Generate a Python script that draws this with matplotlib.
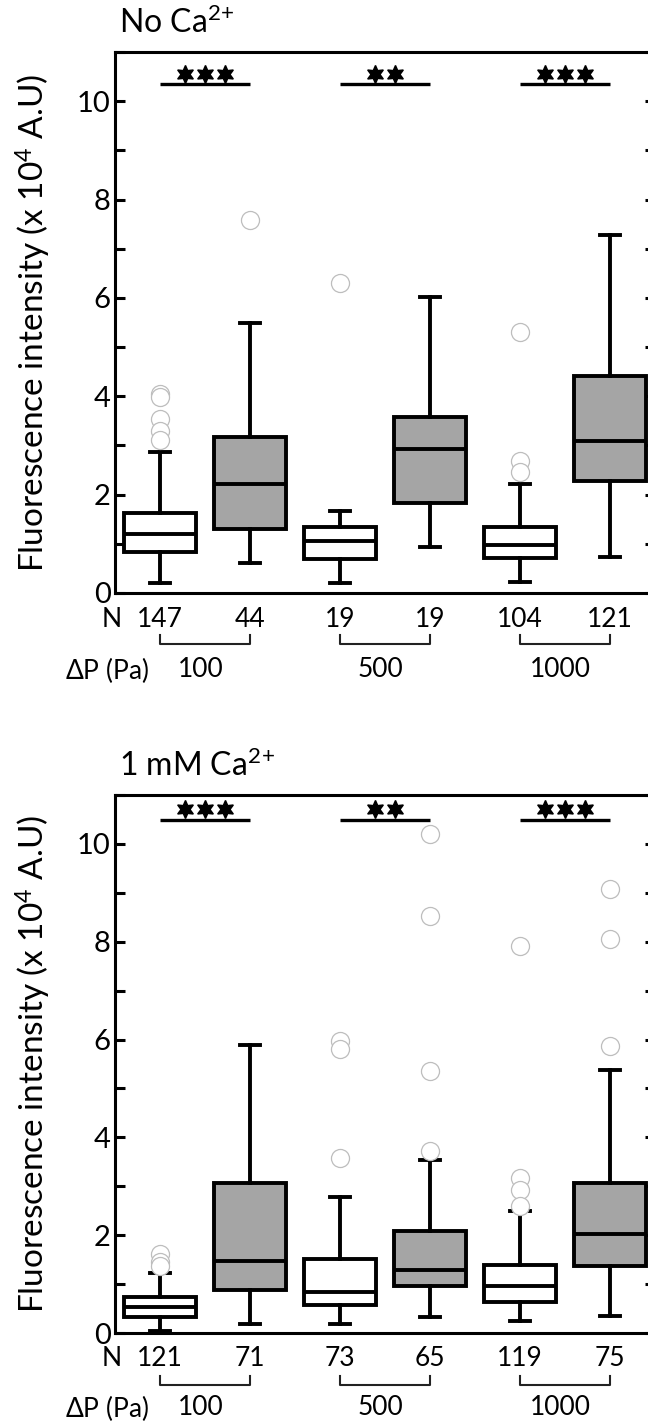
import matplotlib
matplotlib.use("Agg")
import matplotlib.pyplot as plt

plt.rcParams['font.family'] = ['Lato', 'DejaVu Sans']
plt.rcParams['mathtext.fontset'] = 'custom'
plt.rcParams['mathtext.rm'] = 'Lato'
plt.rcParams['mathtext.it'] = 'Lato:italic'

# box summaries, values in 10^4 A.U.
pressures = ['100', '500', '1000']
positions = [1, 2, 3, 4, 5, 6]

# No Ca2+
noca_n = [147, 44, 19, 19, 104, 121]
noca_whislo = [0.21, 0.61, 0.20, 0.94, 0.22, 0.73]
noca_q1 = [0.84, 1.30, 0.69, 1.83, 0.71, 2.27]
noca_med = [1.20, 2.22, 1.06, 2.92, 0.98, 3.08]
noca_q3 = [1.63, 3.18, 1.35, 3.57, 1.35, 4.41]
noca_whishi = [2.86, 5.49, 1.66, 6.02, 2.22, 7.27]
noca_fliers = [[4.05, 3.98, 3.53, 3.29, 3.12], [7.58], [6.30], [],
               [5.30, 2.69, 2.45], []]

# 1 mM Ca2+
ca_n = [121, 71, 73, 65, 119, 75]
ca_whislo = [0.04, 0.18, 0.18, 0.33, 0.25, 0.35]
ca_q1 = [0.33, 0.88, 0.57, 0.96, 0.64, 1.38]
ca_med = [0.53, 1.47, 0.84, 1.29, 0.96, 2.02]
ca_q3 = [0.73, 3.06, 1.51, 2.08, 1.39, 3.06]
ca_whishi = [1.22, 5.88, 2.78, 3.53, 2.49, 5.37]
ca_fliers = [[1.61, 1.45, 1.38], [], [5.98, 5.80, 3.57],
             [10.2, 8.52, 5.35, 3.73], [7.92, 3.16, 2.93, 2.60],
             [9.08, 8.06, 5.87]]

# significance stars per pressure group
stars = [3, 2, 3]

GRAY = '#a5a5a5'
LW = 2.8


def make_stats(whislo, q1, med, q3, whishi, fliers):
    out = []
    for i in range(len(med)):
        out.append(dict(whislo=whislo[i], q1=q1[i], med=med[i], q3=q3[i],
                        whishi=whishi[i], fliers=fliers[i]))
    return out


def draw_panel(ax, stats, counts, title, bar_y, star_y, ny, bky, dpy):
    boxes = ax.bxp(stats, positions=positions, widths=0.8, capwidths=0.23,
                   patch_artist=True, showfliers=True,
                   boxprops=dict(linewidth=LW, edgecolor='black'),
                   medianprops=dict(linewidth=LW, color='black'),
                   whiskerprops=dict(linewidth=LW, color='black'),
                   capprops=dict(linewidth=LW, color='black'),
                   flierprops=dict(marker='o', markerfacecolor='white',
                                   markeredgecolor='#bdbdbd', markersize=13,
                                   markeredgewidth=0.9))
    for i, b in enumerate(boxes['boxes']):
        b.set_facecolor('white' if i % 2 == 0 else GRAY)

    ax.set_xlim(0.5, 6.5)
    ax.set_ylim(0, 11)
    ax.set_yticks([0, 2, 4, 6, 8, 10])
    ax.set_yticks([1, 3, 5, 7, 9, 11], minor=True)
    ax.set_xticks([])
    ax.tick_params(axis='y', which='both', direction='in', length=7, width=2.2,
                   right=True, labelsize=21, pad=3)
    for s in ax.spines.values():
        s.set_linewidth(2.2)

    # significance bars
    for g, n in enumerate(stars):
        x0, x1 = positions[2 * g], positions[2 * g + 1]
        ax.plot([x0, x1], [bar_y, bar_y], color='black', lw=2.4,
                solid_capstyle='butt')
        xm = (x0 + x1) / 2
        xs = [xm + (k - (n - 1) / 2) * 0.22 for k in range(n)]
        ax.plot(xs, [star_y] * n, ls='none', marker=(6, 1, 0),
                markersize=13, color='black')

    # sample sizes and pressure brackets under the axis
    tr = ax.get_xaxis_transform()
    ax.text(0.57, ny, 'N', transform=tr, ha='right', va='center', fontsize=19)
    for p, n in zip(positions, counts):
        ax.text(p, ny, str(n), transform=tr, ha='center', va='center',
                fontsize=19)
    ax.text(0.88, dpy, r'$\Delta$P (Pa)', transform=tr, ha='right',
            va='center', fontsize=19)
    for g, lab in enumerate(pressures):
        x0, x1 = positions[2 * g], positions[2 * g + 1]
        ax.plot([x0, x0, x1, x1], [bky[0], bky[1], bky[1], bky[0]],
                transform=tr, color='#222222', lw=1.5, clip_on=False)
        ax.text((x0 + x1) / 2 - 0.05, dpy, lab, transform=tr, ha='center',
                va='center', fontsize=19)

    ax.text(0.008, 1.055, title, transform=ax.transAxes, ha='left',
            va='center', fontsize=23)
    ax.set_ylabel(r'Fluorescence intensity (x 10$^{4}$ A.U)', fontsize=24)
    ax.yaxis.set_label_coords(-0.115, 0.5)


fig = plt.figure(figsize=(6.48, 14.26), dpi=100)
ax1 = fig.add_axes([0.1775, 0.5842, 0.8333, 0.3793])
ax2 = fig.add_axes([0.1775, 0.0652, 0.8333, 0.3773])

draw_panel(ax1, make_stats(noca_whislo, noca_q1, noca_med, noca_q3,
                           noca_whishi, noca_fliers),
           noca_n, r'No Ca$^{2\!+}$', 10.35, 10.55,
           -0.05, (-0.077, -0.094), -0.142)
draw_panel(ax2, make_stats(ca_whislo, ca_q1, ca_med, ca_q3,
                           ca_whishi, ca_fliers),
           ca_n, r'1 mM Ca$^{2\!+}$', 10.49, 10.72,
           -0.048, (-0.080, -0.097), -0.139)

fig.savefig('out.png', dpi=100)
